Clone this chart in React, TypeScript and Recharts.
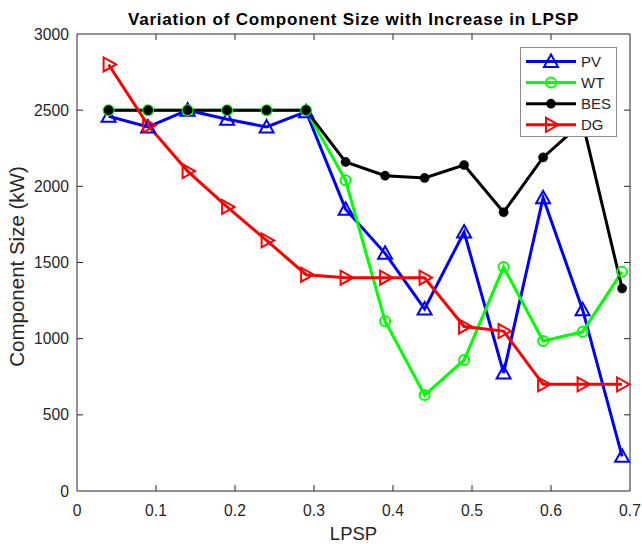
import React from 'react';
import { LineChart, Line, XAxis, YAxis, ReferenceLine } from 'recharts';

const lpsp = [0.04, 0.09, 0.14, 0.19, 0.24, 0.29, 0.34, 0.39, 0.44, 0.49, 0.54, 0.59, 0.64, 0.69];
const pvSize = [2460, 2390, 2500, 2440, 2390, 2490, 1850, 1560, 1195, 1700, 775, 1925, 1190, 228];
const wtSize = [2500, 2500, 2500, 2500, 2500, 2500, 2040, 1115, 630, 860, 1470, 985, 1045, 1440];
const besSize = [2500, 2500, 2500, 2500, 2500, 2500, 2160, 2070, 2055, 2140, 1830, 2190, 2420, 1330];
const dgSize = [2800, 2400, 2100, 1865, 1645, 1420, 1400, 1400, 1400, 1080, 1050, 700, 700, 700];

const xTicks = [0, 0.1, 0.2, 0.3, 0.4, 0.5, 0.6, 0.7];
const yTicks = [0, 500, 1000, 1500, 2000, 2500, 3000];

const X_MAX = 0.7;
const Y_MAX = 3000;
// inward tick length expressed in data units (approx. 6 px)
const V_TICK_LEN = 39;
const H_TICK_LEN = 0.0076;

const data = lpsp.map((x, i) => ({
  x,
  PV: pvSize[i],
  WT: wtSize[i],
  BES: besSize[i],
  DG: dgSize[i],
}));

const FONT = '"Liberation Sans", Arial, Helvetica, sans-serif';
const AXIS = '#262626';

type MarkerKind = 'up' | 'circle' | 'dot' | 'right';

const Marker = ({ kind, cx, cy, color }: { kind: MarkerKind; cx: number; cy: number; color: string }) => {
  if (kind === 'up') {
    return (
      <polygon
        points={`${cx},${cy - 7} ${cx - 7},${cy + 5.5} ${cx + 7},${cy + 5.5}`}
        fill="none"
        stroke={color}
        strokeWidth={2}
      />
    );
  }
  if (kind === 'right') {
    return (
      <polygon
        points={`${cx + 7.5},${cy} ${cx - 5},${cy - 7} ${cx - 5},${cy + 7}`}
        fill="none"
        stroke={color}
        strokeWidth={2}
      />
    );
  }
  if (kind === 'circle') {
    return <circle cx={cx} cy={cy} r={5} fill="none" stroke={color} strokeWidth={2} />;
  }
  return <circle cx={cx} cy={cy} r={4.6} fill={color} stroke={color} strokeWidth={0.5} />;
};

const series: { key: string; color: string; kind: MarkerKind }[] = [
  { key: 'PV', color: '#0000ff', kind: 'up' },
  { key: 'WT', color: '#00ff00', kind: 'circle' },
  { key: 'BES', color: '#000000', kind: 'dot' },
  { key: 'DG', color: '#ff0000', kind: 'right' },
];

const makeDot = (kind: MarkerKind, color: string) => (props: any) => {
  const { cx, cy, index } = props;
  if (cx == null || cy == null) return <g key={`e${kind}${index}`} />;
  return (
    <g key={`${kind}-${index}`}>
      <Marker kind={kind} cx={cx} cy={cy} color={color} />
    </g>
  );
};

const LegendBox = () => (
  <div
    style={{
      position: 'absolute',
      left: 520,
      top: 47,
      width: 97,
      height: 90,
      background: '#ffffff',
      border: '1px solid #8c8c8c',
      boxSizing: 'border-box',
    }}
  >
    <svg width={95} height={88} style={{ display: 'block' }}>
      {series.map((s, i) => {
        const y = 13.5 + i * 21.1;
        return (
          <g key={s.key}>
            <line x1={5} x2={55} y1={y} y2={y} stroke={s.color} strokeWidth={3} />
            <Marker kind={s.kind} cx={30} cy={y} color={s.color} />
            <text x={60} y={y + 5.6} fontFamily={FONT} fontSize={15} fill={AXIS}>
              {s.key}
            </text>
          </g>
        );
      })}
    </svg>
  </div>
);

const XLabel = (props: any) => {
  const vb = props.viewBox;
  return (
    <text
      x={vb.x + vb.width / 2}
      y={vb.y + 49}
      textAnchor="middle"
      fontFamily={FONT}
      fontSize={18.5}
      fill={AXIS}
    >
      LPSP
    </text>
  );
};

const YLabel = (props: any) => {
  const vb = props.viewBox;
  const cx = vb.x + 24;
  const cy = vb.y + vb.height / 2 + 4;
  return (
    <text
      x={cx}
      y={cy}
      textAnchor="middle"
      transform={`rotate(-90, ${cx}, ${cy})`}
      fontFamily={FONT}
      fontSize={20.5}
      fill={AXIS}
    >
      Component Size (kW)
    </text>
  );
};

const innerX = xTicks.slice(1, -1);
const innerY = yTicks.slice(1, -1);

export default function App() {
  return (
    <div style={{ position: 'absolute', left: 0, top: 0, width: 642, height: 544 }}>
      <div
        style={{
          position: 'absolute',
          left: 77,
          width: 553,
          top: 11,
          textAlign: 'center',
          fontFamily: FONT,
          fontWeight: 'bold',
          fontSize: 17,
          letterSpacing: 0.8,
          lineHeight: 1,
          color: '#000000',
          whiteSpace: 'nowrap',
        }}
      >
        Variation of Component Size with Increase in LPSP
      </div>
      <LineChart
        width={642}
        height={544}
        data={data}
        margin={{ top: 34, right: 12, left: 0, bottom: 0 }}
      >
        <XAxis
          dataKey="x"
          type="number"
          domain={[0, X_MAX]}
          ticks={xTicks}
          interval={0}
          height={53}
          tickSize={-6}
          tickMargin={20}
          tickLine={false}
          axisLine={{ stroke: AXIS, strokeWidth: 1 }}
          tick={{ fill: AXIS, fontSize: 15.7, fontFamily: FONT }}
          label={<XLabel />}
        />
        <YAxis
          type="number"
          domain={[0, Y_MAX]}
          ticks={yTicks}
          interval={0}
          width={77}
          tickSize={-6}
          tickMargin={14}
          tickLine={false}
          axisLine={{ stroke: AXIS, strokeWidth: 1 }}
          tick={{ fill: AXIS, fontSize: 15.7, fontFamily: FONT }}
          label={<YLabel />}
        />
        <ReferenceLine y={Y_MAX} stroke={AXIS} strokeWidth={1} />
        <ReferenceLine x={X_MAX} stroke={AXIS} strokeWidth={1} />
        {innerX.map((t) => (
          <ReferenceLine
            key={`tt${t}`}
            segment={[
              { x: t, y: Y_MAX },
              { x: t, y: Y_MAX - V_TICK_LEN },
            ]}
            stroke={AXIS}
            strokeWidth={1}
          />
        ))}
        {innerX.map((t) => (
          <ReferenceLine
            key={`bt${t}`}
            segment={[
              { x: t, y: 0 },
              { x: t, y: V_TICK_LEN },
            ]}
            stroke={AXIS}
            strokeWidth={1}
          />
        ))}
        {innerY.map((t) => (
          <ReferenceLine
            key={`rt${t}`}
            segment={[
              { x: X_MAX, y: t },
              { x: X_MAX - H_TICK_LEN, y: t },
            ]}
            stroke={AXIS}
            strokeWidth={1}
          />
        ))}
        {innerY.map((t) => (
          <ReferenceLine
            key={`lt${t}`}
            segment={[
              { x: 0, y: t },
              { x: H_TICK_LEN, y: t },
            ]}
            stroke={AXIS}
            strokeWidth={1}
          />
        ))}
        {series.map((s) => (
          <Line
            key={s.key}
            dataKey={s.key}
            type="linear"
            stroke={s.color}
            strokeWidth={3}
            dot={makeDot(s.kind, s.color)}
            activeDot={false}
            isAnimationActive={false}
          />
        ))}
      </LineChart>
      <LegendBox />
    </div>
  );
}
